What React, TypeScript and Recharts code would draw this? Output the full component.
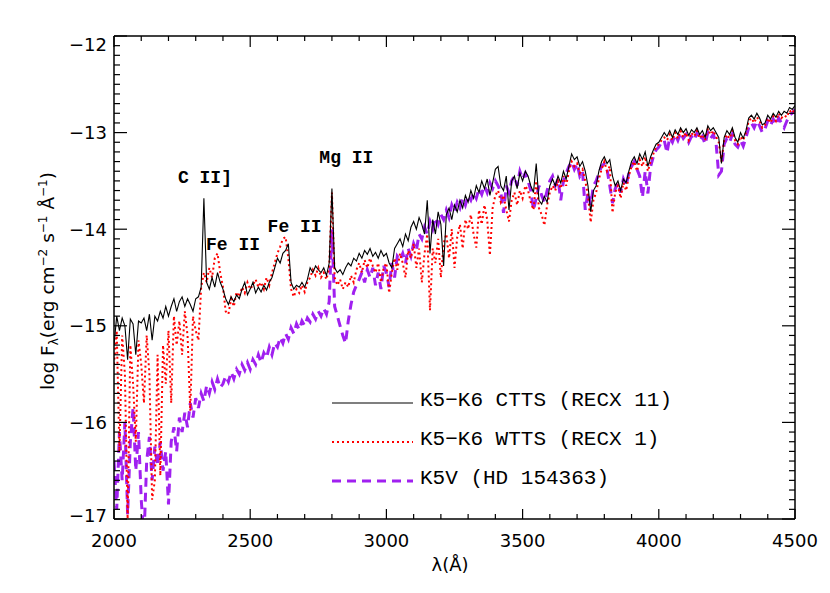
import React from "react";
import { LineChart, Line, XAxis, YAxis, ReferenceDot } from "recharts";

// spectra sampled every 10 Å from 2000 Å to 4500 Å (log flux)
const START = 2000;
const STEP = 10;

const CTTS = [
  -15.2, -14.9, -15.05, -14.92, -15.0, -15.35, -14.93, -14.98, -15.3, -14.95,
  -14.97, -14.92, -15.05, -14.88, -15.15, -14.9, -14.95, -14.85, -14.92, -14.8,
  -14.9, -14.8, -14.72, -14.85, -14.75, -14.7, -14.8, -14.72, -14.78, -14.85,
  -14.72, -14.7, -14.6, -13.68, -14.55, -14.62, -14.5, -14.6, -14.45, -14.55,
  -14.62, -14.72, -14.78, -14.7, -14.75, -14.68, -14.72, -14.62, -14.55, -14.68,
  -14.62, -14.55, -14.66, -14.6, -14.65, -14.58, -14.63, -14.55, -14.5, -14.4,
  -14.3, -14.35, -14.25, -14.22, -14.15, -14.55, -14.62, -14.58, -14.6, -14.55,
  -14.6, -14.52, -14.4, -14.45, -14.38, -14.42, -14.45, -14.4, -14.48, -14.35,
  -13.58, -14.4, -14.45, -14.42, -14.47, -14.4, -14.35, -14.38, -14.3, -14.33,
  -14.25, -14.3, -14.22, -14.26, -14.2, -14.28, -14.24, -14.3, -14.22, -14.28,
  -14.25, -14.35, -14.4, -14.2, -14.15, -14.1, -14.18, -14.05, -14.12, -13.98,
  -13.92, -14.0, -13.88, -13.95, -14.05, -13.7, -14.25, -13.9, -14.05, -13.82,
  -13.95, -14.38, -13.85, -13.78, -13.9, -13.75, -13.82, -13.7, -13.78, -13.65,
  -13.72, -13.6, -13.68, -13.55, -13.62, -13.5, -13.58, -13.48, -13.65, -13.52,
  -13.38, -13.35, -13.55, -13.6, -13.45, -13.8, -13.5, -13.45, -13.58, -13.42,
  -13.5, -13.4, -13.45, -13.55, -13.62, -13.32, -13.7, -13.74, -13.66, -13.72,
  -13.55, -13.48, -13.55, -13.45, -13.52, -13.4, -13.48, -13.35, -13.22, -13.28,
  -13.25, -13.35, -13.3, -13.4, -13.55, -13.82, -13.6, -13.55, -13.4, -13.3,
  -13.25, -13.32, -13.28, -13.45, -13.55, -13.5, -13.6, -13.48, -13.52, -13.4,
  -13.3, -13.25, -13.32, -13.22, -13.28, -13.2, -13.35, -13.25, -13.18, -13.12,
  -13.1, -13.05, -13.0, -13.04, -12.98, -13.05, -12.97, -13.02, -12.95, -13.0,
  -12.96, -13.03, -12.97, -13.0, -12.95, -13.02, -12.98, -13.05, -12.93, -12.98,
  -12.95, -13.0, -13.05, -13.32, -13.05, -12.98, -13.02, -12.95, -13.05, -13.1,
  -13.0, -13.06, -12.98, -12.85, -12.82, -12.86, -12.8, -12.85, -12.92, -12.9,
  -12.82, -12.86, -12.8, -12.84, -12.78, -12.82, -12.78, -12.8, -12.74, -12.76,
  -12.72,
];

const WTTS = [
  -15.4, -15.05, -16.3, -15.1, -15.5, -17.0, -15.2, -15.6, -16.2, -15.15,
  -15.4, -15.8, -15.1, -15.5, -16.8, -16.6, -15.3, -16.55, -15.2, -15.6,
  -15.05, -15.8, -14.9, -15.2, -14.95, -15.3, -14.85, -15.1, -15.88, -14.9,
  -15.05, -15.15, -14.6, -14.45, -14.55, -14.4, -14.5, -14.3, -14.25, -14.45,
  -14.6, -14.85, -14.88, -14.72, -14.8, -14.65, -14.7, -14.6, -14.66, -14.55,
  -14.62, -14.58, -14.52, -14.6, -14.55, -14.62, -14.5, -14.58, -14.45, -14.35,
  -14.25, -14.18, -14.1, -14.08, -14.3, -14.62, -14.7, -14.62, -14.66, -14.58,
  -14.65, -14.55, -14.5, -14.42, -14.48, -14.4, -14.5, -14.45, -14.52, -14.4,
  -13.62, -14.5, -14.58, -14.52, -14.62, -14.55, -14.6, -14.48, -14.55, -14.42,
  -14.35, -14.45, -14.32, -14.4, -14.3, -14.38, -14.45, -14.35, -14.55, -14.4,
  -14.35, -14.66, -14.45, -14.3, -14.42, -14.25, -14.35, -14.5, -14.22, -14.3,
  -14.15, -14.4, -14.2, -14.55, -14.25, -14.05, -14.84, -14.2, -14.35, -14.1,
  -14.5, -14.15, -14.05, -14.3, -14.0, -14.4, -14.08, -13.95, -14.2, -13.9,
  -14.0, -13.85, -14.05, -14.19, -13.8, -13.95, -13.75, -13.9, -14.27, -13.78,
  -13.65, -13.6, -13.72, -13.65, -13.8, -13.92, -13.7, -13.62, -13.75, -13.6,
  -13.68, -13.55, -13.6, -13.72, -13.8, -13.5, -13.78, -13.85, -13.96, -13.75,
  -13.62, -13.55, -13.6, -13.5, -13.58, -13.45, -13.55, -13.4, -13.3, -13.35,
  -13.32, -13.42, -13.38, -13.5, -13.65, -13.93, -13.7, -13.62, -13.48, -13.38,
  -13.3, -13.4, -13.35, -13.83, -13.62, -13.55, -13.68, -13.52, -13.6, -13.45,
  -13.35, -13.3, -13.4, -13.28, -13.35, -13.25, -13.4, -13.3, -13.22, -13.15,
  -13.12, -13.08, -13.05, -13.08, -13.02, -13.08, -13.0, -13.06, -12.98, -13.05,
  -13.0, -13.08, -13.0, -13.04, -12.98, -13.06, -13.02, -13.08, -12.96, -13.02,
  -12.98, -13.04, -13.1, -13.3, -13.08, -13.02, -13.06, -12.98, -13.08, -13.12,
  -13.04, -13.08, -13.0, -12.88, -12.85, -12.9, -12.84, -12.88, -12.95, -12.92,
  -12.85, -12.9, -12.83, -12.88, -12.8, -12.85, -12.82, -12.84, -12.77, -12.8,
  -12.75,
];

const K5V = [
  -16.4, -16.9, -16.1, -16.6, -16.0, -16.95, -16.2, -15.85, -16.5, -16.1,
  -16.8, -17.2, -16.4, -16.15, -16.6, -16.25, -16.45, -16.2, -16.5, -16.3,
  -16.85, -16.2, -16.05, -16.3, -15.95, -16.1, -15.9, -16.05, -15.8, -15.95,
  -15.75, -15.85, -15.7, -15.78, -15.62, -15.7, -15.58, -15.66, -15.55, -15.64,
  -15.6, -15.52, -15.58, -15.48, -15.55, -15.45, -15.5, -15.4, -15.46, -15.38,
  -15.45, -15.35, -15.4, -15.3, -15.38, -15.28, -15.33, -15.22, -15.3, -15.18,
  -15.22, -15.12, -15.18, -15.08, -15.14, -15.02, -15.08, -14.98, -15.04, -14.95,
  -15.0, -14.92, -14.96, -14.88, -14.93, -14.85, -14.9, -14.82, -14.88, -14.75,
  -14.0, -14.8, -14.9, -15.0, -15.1, -15.18, -14.95, -14.78, -14.65, -14.58,
  -14.52, -14.45, -14.55, -14.42, -14.5, -14.4, -14.58, -14.45, -14.62, -14.38,
  -14.45, -14.6, -14.35, -14.5, -14.28, -14.32, -14.25, -14.35, -14.2, -14.28,
  -14.15, -14.22, -14.05, -14.1, -13.98, -14.05, -13.92, -14.0, -13.88, -13.95,
  -13.85, -13.9, -13.8, -13.88, -13.75, -13.82, -13.72, -13.78, -13.68, -13.75,
  -13.65, -13.7, -13.62, -13.68, -13.58, -13.64, -13.55, -13.62, -13.52, -13.58,
  -13.5, -13.55, -13.62, -13.83, -13.55, -13.62, -13.5, -13.45, -13.55, -13.4,
  -13.48, -13.42, -13.5, -13.6, -13.8, -13.68, -13.55, -13.65, -13.72, -13.6,
  -13.5, -13.45, -13.55, -13.48, -13.7, -13.5, -13.42, -13.35, -13.3, -13.38,
  -13.32, -13.45, -13.4, -13.8, -13.62, -13.75, -13.55, -13.5, -13.42, -13.35,
  -13.32, -13.38, -13.55, -13.73, -13.58, -13.52, -13.62, -13.48, -13.55, -13.42,
  -13.35, -13.3, -13.38, -13.45, -13.67, -13.4, -13.63, -13.35, -13.25, -13.18,
  -13.15, -13.1, -13.08, -13.21, -13.05, -13.1, -13.02, -13.08, -13.0, -13.06,
  -13.02, -13.1, -13.04, -13.08, -13.0, -13.08, -13.04, -13.12, -13.0, -13.06,
  -13.02, -13.1, -13.44, -13.4, -13.12, -13.06, -13.1, -13.02, -13.12, -13.15,
  -13.08, -13.14, -13.05, -12.95, -12.9, -12.95, -12.88, -12.93, -13.0, -12.96,
  -12.88, -12.93, -12.86, -12.92, -12.85, -12.9, -12.95, -12.88, -12.82, -12.8,
  -12.76,
];

const X_TICKS = [
  2000, 2100, 2200, 2300, 2400, 2500, 2600, 2700, 2800, 2900, 3000, 3100, 3200,
  3300, 3400, 3500, 3600, 3700, 3800, 3900, 4000, 4100, 4200, 4300, 4400, 4500,
];
const Y_MAJOR = [-17, -16, -15, -14, -13, -12];
// 0.1 minor steps between the labelled values
const Y_TICKS = Y_MAJOR.flatMap((m) =>
  m === -12 ? [m] : [0, 1, 2, 3, 4, 5, 6, 7, 8, 9].map((k) => +(m + k / 10).toFixed(1))
);

const LINE_LABELS = [
  { text: "C II]", w: 2334, v: -13.52 },
  { text: "Fe II", w: 2437, v: -14.22 },
  { text: "Fe II", w: 2663, v: -14.03 },
  { text: "Mg II", w: 2853, v: -13.31 },
];

const LEGEND = [
  { key: "ctts", label: "K5\u2212K6 CTTS (RECX 11)" },
  { key: "wtts", label: "K5\u2212K6 WTTS (RECX 1)" },
  { key: "k5v", label: "K5V (HD 154363)" },
];

const STYLES: Record<string, { stroke: string; width: number; dash?: string }> = {
  ctts: { stroke: "#000000", width: 1.1 },
  wtts: { stroke: "#ff0000", width: 2, dash: "2 3" },
  k5v: { stroke: "#a020f0", width: 3, dash: "9 6" },
};

const W = 830;
const H = 593;
const PLOT = { left: 114, right: 795, top: 36, bottom: 519 };
const TICK_FONT = "'DejaVu Sans', sans-serif";
const MONO = "'Liberation Mono', monospace";

const data = CTTS.map((v, i) => ({
  w: START + i * STEP,
  ctts: v,
  wtts: WTTS[i],
  k5v: K5V[i],
}));

const isMajorX = (v: number) => v % 500 === 0;
const isMajorY = (v: number) => Math.abs(v - Math.round(v)) < 1e-6;
const minus = (v: number) => (v < 0 ? "\u2212" + Math.abs(v) : String(v));

function BottomTick(props: any) {
  const { x, payload } = props;
  const major = isMajorX(payload.value);
  return (
    <g>
      <line x1={x} x2={x} y1={PLOT.bottom} y2={PLOT.bottom - (major ? 10 : 5)} stroke="#000" strokeWidth={1.2} />
      {major && (
        <text x={x} y={PLOT.bottom + 28} textAnchor="middle" fontFamily={TICK_FONT} fontSize={18} fill="#000">
          {payload.value}
        </text>
      )}
    </g>
  );
}

function TopTick(props: any) {
  const { x, payload } = props;
  const major = isMajorX(payload.value);
  return <line x1={x} x2={x} y1={PLOT.top} y2={PLOT.top + (major ? 11 : 5)} stroke="#000" strokeWidth={1.2} />;
}

function LeftTick(props: any) {
  const { y, payload } = props;
  const major = isMajorY(payload.value);
  const ly = Math.min(Math.max(y, PLOT.top + 8), PLOT.bottom - 4);
  return (
    <g>
      <line x1={PLOT.left} x2={PLOT.left + (major ? 13 : 6)} y1={y} y2={y} stroke="#000" strokeWidth={1.2} />
      {major && (
        <text x={PLOT.left - 7} y={ly + 6.5} textAnchor="end" fontFamily={TICK_FONT} fontSize={18} fill="#000">
          {minus(payload.value)}
        </text>
      )}
    </g>
  );
}

function RightTick(props: any) {
  const { y, payload } = props;
  const major = isMajorY(payload.value);
  return <line x1={PLOT.right} x2={PLOT.right - (major ? 13 : 6)} y1={y} y2={y} stroke="#000" strokeWidth={1.2} />;
}

function Overlay() {
  const sup = { fontSize: 12 };
  return (
    <svg width={W} height={H} style={{ position: "absolute", left: 0, top: 0, pointerEvents: "none" }}>
      <text transform="translate(54,281) rotate(-90)" textAnchor="middle" fontFamily={TICK_FONT} fontSize={18.5} fill="#000">
        log F
        <tspan dy={4} {...sup}>λ</tspan>
        <tspan dy={-4}>(erg cm</tspan>
        <tspan dy={-7} {...sup}>−2</tspan>
        <tspan dy={7}> s</tspan>
        <tspan dy={-7} {...sup}>−1</tspan>
        <tspan dy={7}> Å</tspan>
        <tspan dy={-7} {...sup}>−1</tspan>
        <tspan dy={7}>)</tspan>
      </text>
      <text x={450} y={571} textAnchor="middle" fontFamily={TICK_FONT} fontSize={18} fill="#000">
        λ(Å)
      </text>
      {LEGEND.map((item, i) => {
        const s = STYLES[item.key];
        const y = 403 + i * 39;
        return (
          <g key={item.key}>
            <line x1={332} x2={413} y1={y} y2={y} stroke={s.stroke} strokeWidth={s.width} strokeDasharray={s.dash} />
            <text x={420} y={y + 3} fontFamily={MONO} fontSize={21} fill="#000">
              {item.label}
            </text>
          </g>
        );
      })}
    </svg>
  );
}

const frame = { stroke: "#000", strokeWidth: 1.5 };

export default function App() {
  return (
    <div style={{ position: "relative", width: W, height: H, background: "#fff" }}>
      <style>{"body{margin:0}"}</style>
      <LineChart
        width={W}
        height={H}
        data={data}
        margin={{ top: PLOT.top - 1, right: W - PLOT.right - 1, bottom: H - PLOT.bottom - 1, left: PLOT.left - 1 }}
      >
        <XAxis
          dataKey="w"
          type="number"
          domain={[2000, 4500]}
          allowDataOverflow
          ticks={X_TICKS}
          interval={0}
          height={1}
          tick={<BottomTick />}
          tickLine={false}
          axisLine={frame}
        />
        <XAxis
          xAxisId="top"
          dataKey="w"
          orientation="top"
          type="number"
          domain={[2000, 4500]}
          allowDataOverflow
          ticks={X_TICKS}
          interval={0}
          height={1}
          tick={<TopTick />}
          tickLine={false}
          axisLine={frame}
        />
        <YAxis
          type="number"
          domain={[-17, -12]}
          allowDataOverflow
          ticks={Y_TICKS}
          interval={0}
          width={1}
          tick={<LeftTick />}
          tickLine={false}
          axisLine={frame}
        />
        <YAxis
          yAxisId="right"
          orientation="right"
          type="number"
          domain={[-17, -12]}
          allowDataOverflow
          ticks={Y_TICKS}
          interval={0}
          width={1}
          tick={<RightTick />}
          tickLine={false}
          axisLine={frame}
        />
        <Line
          dataKey="k5v"
          type="linear"
          dot={false}
          stroke={STYLES.k5v.stroke}
          strokeWidth={STYLES.k5v.width}
          strokeDasharray={STYLES.k5v.dash}
          isAnimationActive={false}
        />
        <Line
          dataKey="wtts"
          type="linear"
          dot={false}
          stroke={STYLES.wtts.stroke}
          strokeWidth={STYLES.wtts.width}
          strokeDasharray={STYLES.wtts.dash}
          isAnimationActive={false}
        />
        <Line
          dataKey="ctts"
          type="linear"
          dot={false}
          stroke={STYLES.ctts.stroke}
          strokeWidth={STYLES.ctts.width}
          isAnimationActive={false}
        />
        {LINE_LABELS.map((l, i) => (
          <ReferenceDot
            key={i}
            x={l.w}
            y={l.v}
            r={0}
            shape={(p: any) => (
              <text x={p.cx} y={p.cy} textAnchor="middle" fontFamily={MONO} fontWeight="bold" fontSize={18} fill="#000">
                {l.text}
              </text>
            )}
          />
        ))}
      </LineChart>
      <Overlay />
    </div>
  );
}
